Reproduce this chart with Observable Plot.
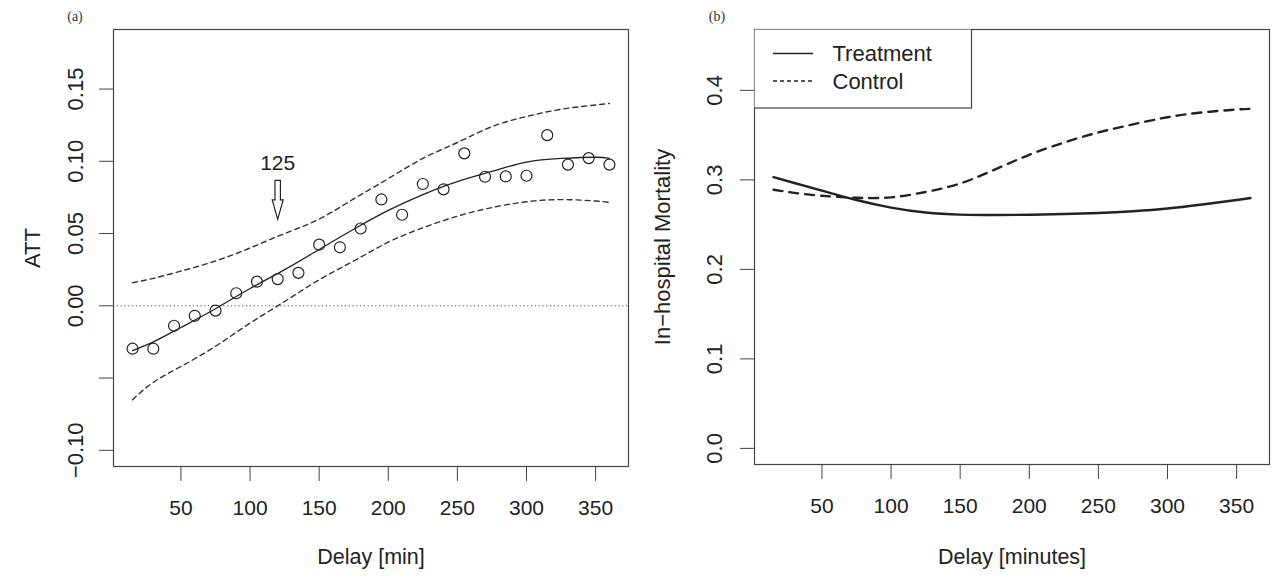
<!DOCTYPE html>
<html>
<head>
<meta charset="utf-8">
<script src="https://cdn.jsdelivr.net/npm/d3@7"></script>
<script src="https://cdn.jsdelivr.net/npm/@observablehq/plot@0.6"></script>
<style>
  body { margin: 0; background: #fff; }
  #wrap { position: relative; width: 1276px; height: 579px; overflow: hidden; background: #fff; }
  .panel { position: absolute; top: 0; }
  .tag { position: absolute; font-family: "Liberation Serif", "Times New Roman", serif; font-size: 14px; color: #333; transform: translate(-50%, -50%); }
</style>
</head>
<body>
<div id="wrap"></div>
<script>
// ---------- Panel (a): ATT vs delay ----------
const delay = [15, 30, 45, 60, 75, 90, 105, 120, 135, 150, 165, 180, 195, 210, 225, 240, 255, 270, 285, 300, 315, 330, 345, 360];
const att = [-0.0297, -0.0297, -0.0138, -0.0069, -0.0033, 0.0087, 0.0167, 0.0185, 0.0228, 0.0423, 0.0405, 0.0535, 0.0736, 0.0630, 0.0843, 0.0806, 0.1055, 0.0893, 0.0895, 0.0900, 0.1181, 0.0977, 0.1022, 0.0977];

const curveX = [15, 30, 50, 75, 100, 125, 150, 175, 200, 225, 250, 275, 300, 325, 350, 360];
const attFit   = [-0.031, -0.025, -0.015, -0.002, 0.012, 0.025, 0.039, 0.053, 0.066, 0.077, 0.086, 0.093, 0.0995, 0.102, 0.1028, 0.102];
const attUpper = [0.016, 0.019, 0.024, 0.031, 0.040, 0.050, 0.060, 0.074, 0.088, 0.102, 0.113, 0.124, 0.131, 0.136, 0.139, 0.140];
const attLower = [-0.065, -0.053, -0.042, -0.028, -0.012, 0.003, 0.018, 0.031, 0.044, 0.054, 0.062, 0.068, 0.072, 0.0735, 0.0725, 0.0715];

const arrowX = [120];
const arrowY = [0.0733];
const arrowLabel = ["125"];
const arrowLabelY = [0.0983];

const xTicks = [50, 100, 150, 200, 250, 300, 350];
const attTicks = [-0.10, -0.05, 0.00, 0.05, 0.10, 0.15];
const attTickLabels = ["\u22120.10", "", "0.00", "0.05", "0.10", "0.15"];

// ---------- Panel (b): In-hospital mortality ----------
const treatment = [0.303, 0.2965, 0.288, 0.2775, 0.269, 0.2635, 0.2612, 0.2607, 0.261, 0.2618, 0.263, 0.265, 0.268, 0.2725, 0.2775, 0.2797];
const control   = [0.289, 0.2855, 0.2822, 0.2800, 0.2805, 0.2865, 0.296, 0.3115, 0.328, 0.3416, 0.353, 0.362, 0.370, 0.3753, 0.3786, 0.3794];
const mortTicks = [0.0, 0.1, 0.2, 0.3, 0.4];
const mortTickLabels = ["0.0", "0.1", "0.2", "0.3", "0.4"];
const legendLabels = ["Treatment", "Control"];

const FONT = '"Liberation Sans", Arial, Helvetica, sans-serif';
const INK = "#222";
const BOX = "#444";

// tables built from the arrays
const pts = delay.map((d, i) => ({x: d, y: att[i]}));
const fitT = curveX.map((d, i) => ({x: d, y: attFit[i]}));
const upT = curveX.map((d, i) => ({x: d, y: attUpper[i]}));
const loT = curveX.map((d, i) => ({x: d, y: attLower[i]}));
const arrowT = arrowX.map((d, i) => ({x: d, y: arrowY[i], ly: arrowLabelY[i], label: arrowLabel[i]}));
const treatT = curveX.map((d, i) => ({x: d, y: treatment[i]}));
const ctrlT = curveX.map((d, i) => ({x: d, y: control[i]}));

// hollow block arrow pointing down, as a custom symbol
const blockArrow = {
  draw(ctx, size) {
    const r = Math.sqrt(size / Math.PI);
    const sw = 0.14 * r, hw = 0.28 * r, neck = 0.0;
    ctx.moveTo(-sw, -r);
    ctx.lineTo(sw, -r);
    ctx.lineTo(sw, neck);
    ctx.lineTo(hw, neck);
    ctx.lineTo(0, r);
    ctx.lineTo(-hw, neck);
    ctx.lineTo(-sw, neck);
    ctx.closePath();
  }
};

const wrap = document.getElementById("wrap");

const left = Plot.plot({
  width: 640, height: 579,
  marginLeft: 113, marginRight: 12, marginTop: 29, marginBottom: 113,
  style: {fontFamily: FONT, fontSize: "20.5px", color: INK, background: "transparent", overflow: "visible"},
  x: {domain: [1.2, 373.8]},
  y: {domain: [-0.1112, 0.1912]},
  marks: [
    Plot.frame({stroke: BOX, strokeWidth: 1.2}),
    Plot.ruleY([0], {stroke: "#555", strokeWidth: 1.1, strokeDasharray: "1.2,2.6"}),
    Plot.line(upT, {x: "x", y: "y", curve: "natural", stroke: "#333", strokeWidth: 1.4, strokeDasharray: "5,4"}),
    Plot.line(loT, {x: "x", y: "y", curve: "natural", stroke: "#333", strokeWidth: 1.4, strokeDasharray: "5,4"}),
    Plot.line(fitT, {x: "x", y: "y", curve: "natural", stroke: "#222", strokeWidth: 1.3}),
    Plot.dot(pts, {x: "x", y: "y", r: 5.5, stroke: "#222", strokeWidth: 1.2, fill: "none"}),
    Plot.dot(arrowT, {x: "x", y: "y", symbol: blockArrow, r: 19.5, fill: "white", stroke: "#222", strokeWidth: 1.2}),
    Plot.text(arrowT, {x: "x", y: "ly", text: "label", fontSize: 21, fill: INK, lineAnchor: "middle"}),
    Plot.axisX({ticks: xTicks, tickSize: 15, tickPadding: 19, tickFormat: d => String(d), label: null, stroke: BOX, fontSize: 21}),
    Plot.axisY({ticks: attTicks, tickSize: 14, tickPadding: 24, tickRotate: -90, textAnchor: "middle", lineAnchor: "middle",
      tickFormat: d => attTickLabels[attTicks.indexOf(d)], label: null, stroke: BOX, fontSize: 22}),
    Plot.text(["Delay [min]"], {text: d => d, frameAnchor: "bottom", dy: 91, fontSize: 21.5, textAnchor: "middle", lineAnchor: "middle", fill: INK}),
    Plot.text(["ATT"], {text: d => d, frameAnchor: "left", dx: -81, rotate: -90, fontSize: 22, textAnchor: "middle", lineAnchor: "middle", fill: INK})
  ]
});
left.classList.add("panel");
left.style.left = "0px";
wrap.appendChild(left);

const right = Plot.plot({
  width: 636, height: 579,
  marginLeft: 114, marginRight: 7, marginTop: 29, marginBottom: 115,
  style: {fontFamily: FONT, fontSize: "20.5px", color: INK, background: "transparent", overflow: "visible"},
  x: {domain: [1.2, 373.8]},
  y: {domain: [-0.018, 0.468]},
  marks: [
    Plot.frame({stroke: BOX, strokeWidth: 1.2}),
    Plot.line(ctrlT, {x: "x", y: "y", curve: "natural", stroke: "#222", strokeWidth: 2.4, strokeDasharray: "9,7"}),
    Plot.line(treatT, {x: "x", y: "y", curve: "natural", stroke: "#222", strokeWidth: 2.4}),
    Plot.axisX({ticks: xTicks, tickSize: 15, tickPadding: 19, tickFormat: d => String(d), label: null, stroke: BOX, fontSize: 21}),
    Plot.axisY({ticks: mortTicks, tickSize: 14, tickPadding: 26, tickRotate: -90, textAnchor: "middle", lineAnchor: "middle",
      tickFormat: d => mortTickLabels[mortTicks.indexOf(d)], label: null, stroke: BOX, fontSize: 22}),
    Plot.text(["Delay [minutes]"], {text: d => d, frameAnchor: "bottom", dy: 93, fontSize: 21.5, textAnchor: "middle", lineAnchor: "middle", fill: INK}),
    Plot.text(["In\u2212hospital Mortality"], {text: d => d, frameAnchor: "left", dx: -92, rotate: -90, fontSize: 22, textAnchor: "middle", lineAnchor: "middle", fill: INK})
  ]
});
right.classList.add("panel");
right.style.left = "640px";
wrap.appendChild(right);

// legend (top-left, inset 0)
const lg = d3.select(wrap).append("svg")
  .style("position", "absolute").style("left", "754px").style("top", "29px")
  .attr("width", 220).attr("height", 81);
lg.append("rect").attr("x", 0).attr("y", 0).attr("width", 217.5).attr("height", 79)
  .attr("fill", "white").attr("stroke", BOX).attr("stroke-width", 1.2);
const legendDash = [null, "4,3"];
const rowY = [24.5, 52];
legendLabels.forEach((lab, i) => {
  lg.append("line").attr("x1", 19).attr("x2", 59).attr("y1", rowY[i]).attr("y2", rowY[i])
    .attr("stroke", "#222").attr("stroke-width", 1.3).attr("stroke-dasharray", legendDash[i]);
  lg.append("text").attr("x", 78.5).attr("y", rowY[i]).attr("dy", "0.35em")
    .attr("font-family", FONT).attr("font-size", 22).attr("fill", INK).text(lab);
});

// panel tags
[["(a)", 75, 17], ["(b)", 717, 17]].forEach(([t, x, y]) => {
  const d = document.createElement("div");
  d.className = "tag"; d.textContent = t;
  d.style.left = x + "px"; d.style.top = y + "px";
  wrap.appendChild(d);
});
</script>
</body>
</html>
